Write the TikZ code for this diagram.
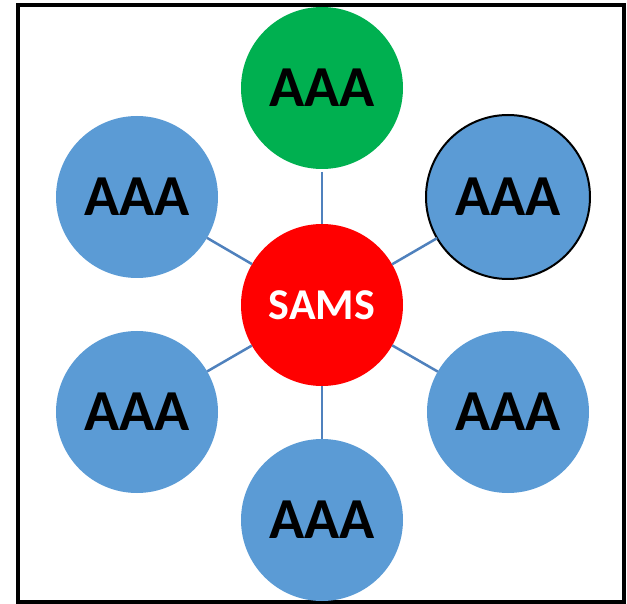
\documentclass[tikz,border=0pt]{standalone}
\usepackage{fontspec}
\setmainfont{Carlito}
\definecolor{cblue}{HTML}{5B9BD5}
\definecolor{cgreen}{HTML}{00B050}
\definecolor{cred}{HTML}{FF0000}
\definecolor{clink}{HTML}{4F81BD}
\tikzset{
  bubble/.style={circle, minimum size=162pt, inner sep=0pt, outer sep=0pt, fill=cblue,
    font=\fontsize{58}{60}\selectfont\bfseries, text=black},
  hub/.style={circle, minimum size=162pt, inner sep=0pt, outer sep=0pt, fill=cred,
    font=\fontsize{44}{46}\selectfont\bfseries, text=white},
  link/.style={draw=clink, line width=2.5pt}
}
\begin{document}
\begin{tikzpicture}[x=1pt,y=-1pt]
\useasboundingbox (0,0) rectangle (627,604);
\draw[line width=4pt] (17.5,5) rectangle (624,601.5);
\node[hub] (c) at (322,305) {SAMS};
\node[bubble, fill=cgreen] (t) at (322,88) {AAA};
\node[bubble] (ul) at (137,197) {AAA};
\node[bubble, draw=black, line width=2pt, minimum size=164pt] (ur) at (508,197) {AAA};
\node[bubble] (ll) at (137,412) {AAA};
\node[bubble] (lr) at (508,412) {AAA};
\node[bubble] (b) at (322,520) {AAA};
\draw[link, shorten <=3pt] (t) -- (c);
\draw[link] (ul) -- (c);
\draw[link] (ur) -- (c);
\draw[link] (ll) -- (c);
\draw[link] (lr) -- (c);
\draw[link] (b) -- (c);
\end{tikzpicture}
\end{document}
